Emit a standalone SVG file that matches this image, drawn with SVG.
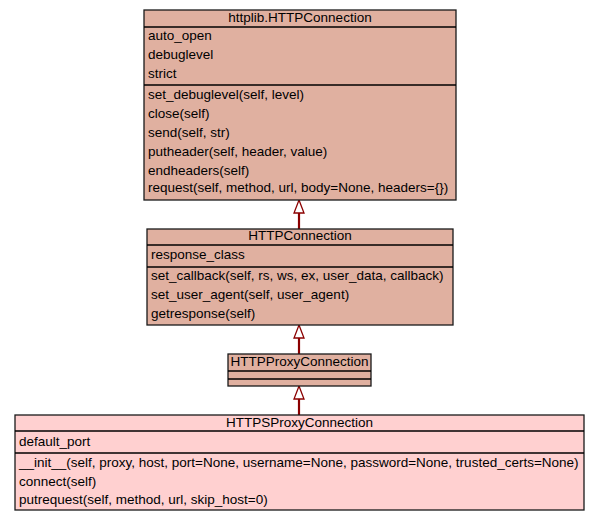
<svg xmlns="http://www.w3.org/2000/svg" width="600" height="523" viewBox="0 0 600 523">
  <defs>
    <path id="inherit-head" d="M0,0 L5,13 L-5,13 Z"/>
  </defs>
  <style>
    .box { stroke: #1a1a1a; stroke-width: 1.3; }
    .base { fill: #e0b0a0; }
    .leaf { fill: #ffd0d0; }
    .sep { stroke: #000000; stroke-width: 1.3; }
    text { font-family: "Liberation Sans", Arial, sans-serif; font-size: 13.5px; fill: #000000; }
    .title { text-anchor: middle; }
    .edge { stroke: #8b0000; stroke-width: 2.2; fill: none; }
    .head { fill: #ffffff; stroke: #8b0000; stroke-width: 1.3; }
  </style>
  <rect width="600" height="523" fill="#ffffff"/>

  <g id="connectors">
    <line class="edge" x1="299" y1="229" x2="299" y2="212"/>
    <use href="#inherit-head" class="head" x="299" y="200"/>
    <line class="edge" x1="299" y1="354" x2="299" y2="337"/>
    <use href="#inherit-head" class="head" x="299" y="325"/>
    <line class="edge" x1="299" y1="415" x2="299" y2="398"/>
    <use href="#inherit-head" class="head" x="299" y="386"/>
  </g>

  <g id="httplib-HTTPConnection">
    <rect class="box base" x="144" y="10" width="312" height="190"/>
    <line class="sep" x1="144" y1="27" x2="456" y2="27"/>
    <line class="sep" x1="144" y1="85" x2="456" y2="85"/>
    <text class="title" x="300" y="22">httplib.HTTPConnection</text>
    <text x="148" y="40">auto_open</text>
    <text x="148" y="59">debuglevel</text>
    <text x="148" y="78">strict</text>
    <text x="148" y="99">set_debuglevel(self, level)</text>
    <text x="148" y="118">close(self)</text>
    <text x="148" y="137">send(self, str)</text>
    <text x="148" y="156">putheader(self, header, value)</text>
    <text x="148" y="175">endheaders(self)</text>
    <text x="148" y="192">request(self, method, url, body=None, headers={})</text>
  </g>

  <g id="HTTPConnection">
    <rect class="box base" x="147" y="229" width="306" height="96"/>
    <line class="sep" x1="147" y1="245" x2="453" y2="245"/>
    <line class="sep" x1="147" y1="267" x2="453" y2="267"/>
    <text class="title" x="300" y="240">HTTPConnection</text>
    <text x="151" y="259">response_class</text>
    <text x="151" y="280">set_callback(self, rs, ws, ex, user_data, callback)</text>
    <text x="151" y="299">set_user_agent(self, user_agent)</text>
    <text x="151" y="318">getresponse(self)</text>
  </g>

  <g id="HTTPProxyConnection">
    <rect class="box base" x="228" y="354" width="143" height="32"/>
    <line class="sep" x1="228" y1="371" x2="371" y2="371"/>
    <line class="sep" x1="228" y1="379" x2="371" y2="379"/>
    <text class="title" x="299.5" y="366">HTTPProxyConnection</text>
  </g>

  <g id="HTTPSProxyConnection">
    <rect class="box leaf" x="15" y="415" width="569" height="95"/>
    <line class="sep" x1="15" y1="431" x2="584" y2="431"/>
    <line class="sep" x1="15" y1="453" x2="584" y2="453"/>
    <text class="title" x="299.5" y="427">HTTPSProxyConnection</text>
    <text x="19" y="446">default_port</text>
    <text x="19" y="467">__init__(self, proxy, host, port=None, username=None, password=None, trusted_certs=None)</text>
    <text x="19" y="486">connect(self)</text>
    <text x="19" y="504">putrequest(self, method, url, skip_host=0)</text>
  </g>
</svg>
